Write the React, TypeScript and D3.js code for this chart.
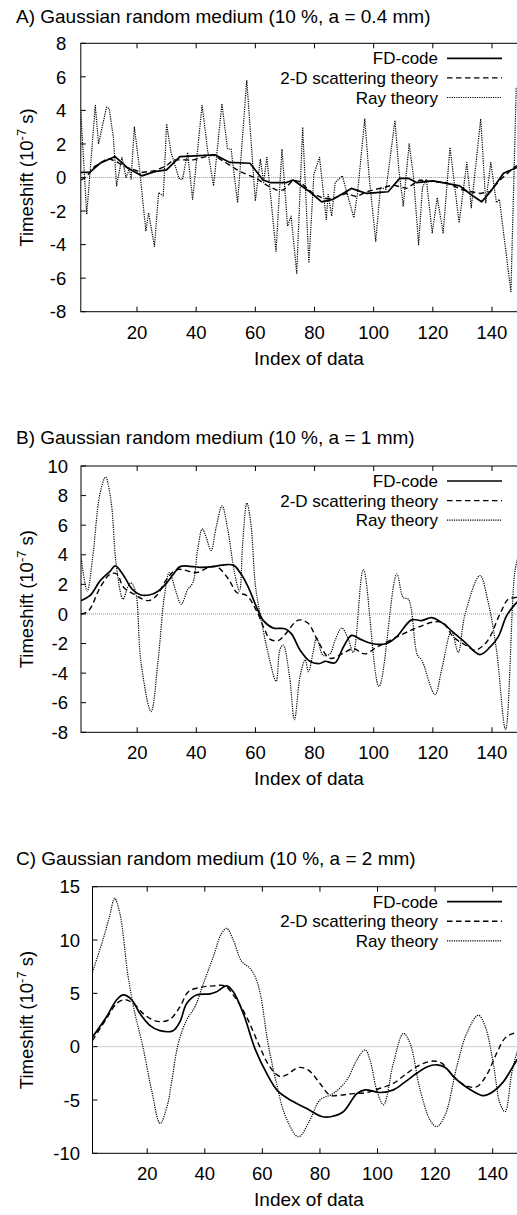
import React from 'react';
import * as d3 from 'd3';

type Pt = [number, number];

const X_DOMAIN: [number, number] = [1, 149];
const X_TICKS = [20, 40, 60, 80, 100, 120, 140];
const A_Y_TICKS = [-8, -6, -4, -2, 0, 2, 4, 6, 8];
const B_Y_TICKS = [-8, -6, -4, -2, 0, 2, 4, 6, 8, 10];
const C_Y_TICKS = [-10, -5, 0, 5, 10, 15];

const TITLES = [
  'A) Gaussian random medium (10 %, a = 0.4 mm)',
  'B) Gaussian random medium (10 %, a = 1 mm)',
  'C) Gaussian random medium (10 %, a = 2 mm)',
];
const SERIES_NAMES = ['FD-code', '2-D scattering theory', 'Ray theory'];
const X_LABEL = 'Index of data';

// Panel A
const A_FD: Pt[] = [
  [1, 0.3], [4, 0.3], [7.5, 0.85], [12.6, 1.25], [17, 0.55], [21.6, 0.1], [26, 0.35], [30, 0.45],
  [34.5, 1.25], [41.2, 1.3], [46.3, 1.35], [51.4, 0.9], [58.2, 0.85], [62.6, -0.15], [65, -0.3],
  [70.5, -0.3], [72.8, -0.15], [78.4, -0.85], [82.4, -1.45], [86.3, -1.3], [92.5, -0.65], [97.6, -0.95],
  [100.9, -0.9], [104.9, -0.85], [108.8, -0.05], [111.7, -0.05], [114.5, -0.3], [120.1, -0.2],
  [124.6, -0.35], [129.1, -0.5], [133.6, -1.1], [136.5, -1.45], [139.9, -0.75], [143.9, 0.25],
  [147.8, 0.55], [149, 0.65],
];
const A_2D: Pt[] = [
  [1, -0.15], [3, 0.05], [5.6, 0.65], [10.2, 1.15], [13, 0.95], [15.8, 0.65], [19.2, 0.45], [21.5, 0.3],
  [26, 0.4], [30, 0.7], [32.2, 1.05], [39, 1.05], [45.7, 1.35], [50.3, 0.85], [54.8, 0.35], [60.4, -0.05],
  [63.8, -0.45], [67.2, -0.75], [69.5, -0.75], [72.8, -0.15], [75, -0.25], [79.5, -0.95], [83, -1.25],
  [86.3, -1.25], [90.8, -0.95], [94.2, -1.15], [97.6, -0.85], [102, -0.65], [106.6, -0.45], [111.1, -0.65],
  [115.6, -0.15], [120.1, -0.25], [124.6, -0.3], [130.2, -0.75], [135.9, -0.95], [139.3, -0.85],
  [142.7, -0.15], [147.8, 0.65], [149, 0.75],
];
const A_RAY: Pt[] = [
  [1, 3.9], [3, -2.2], [5.9, 4.3], [7, 2.0], [9.7, 4.2], [10.6, 4.1], [12, 2.4], [13.1, -0.5], [14.9, 1.2],
  [16.3, 0], [17.4, 0.5], [18, -0.1], [19.1, 3.0], [20.8, 0.6], [23, -3.2], [23.9, -2.1], [25.9, -4.1],
  [27.3, -0.9], [28.9, -1.1], [30, 3.2], [31.5, 1.5], [34.3, -0.1], [35.4, -0.1], [37.1, 1.5], [38.8, -1.3],
  [42, 4.3], [43.9, 1.6], [45.9, -0.5], [48.7, 4.4], [50.6, 1.7], [51.8, 1.7], [54, -1.5], [57.1, 5.8],
  [60, -1.4], [61.7, 1.1], [62.8, -0.3], [63.9, 1.2], [67, -4.4], [69, 1.7], [70.9, -2.9], [72.1, -2.3],
  [74, -5.7], [76, 3.0], [78.1, -5.1], [79.8, 0.2], [81.7, 1.2], [84, -2.5], [84.6, -1.0], [85.8, -2.3],
  [87, -0.3], [89.4, 0.1], [93.3, -2.4], [94.5, -1.0], [97, 3.5], [98.5, 0], [100.7, -3.8], [102.3, -0.6],
  [104.2, -0.7], [107.2, 3.4], [108.5, 0.5], [110, -1.7], [112, 2.0], [113.5, 0.0], [115.2, -4.0],
  [116.5, -0.6], [117.8, -0.1], [119.8, -3.3], [121.5, -1.2], [123.5, -3.3], [125.8, 1.8], [128.9, -2.7],
  [131.5, 0.9], [133, -1.8], [136.2, 3.5], [137.9, -1.5], [139.6, 0.9], [141.5, -1.5], [142.5, -1.3],
  [146.4, -6.8], [148.2, 5.3], [149, 5.5],
];

// Panel B
const B_FD: Pt[] = [
  [1, 0.9], [4.1, 1.25], [7.5, 2.25], [10.9, 2.9], [12.6, 3.25], [15.4, 2.6], [18.2, 1.7], [21, 1.3],
  [24.4, 1.3], [27.2, 1.55], [30, 2.1], [32.3, 2.7], [34.5, 3.2], [39, 3.2], [41.3, 3.15], [45.8, 3.2],
  [48.6, 3.3], [52.5, 3.3], [54.8, 2.8], [57.6, 1.8], [60.4, 0.45], [62.7, -0.45], [66, -0.95], [70, -1.0],
  [72.2, -1.35], [75.1, -2.45], [78.4, -3.2], [81.8, -3.35], [83.5, -3.2], [86.9, -3.3], [89.7, -2.25],
  [92.5, -1.45], [95.4, -1.7], [99.3, -2.0], [104.4, -2.0], [107.7, -1.55], [112.8, -0.4], [116.2, -0.45],
  [119.6, -0.25], [123.5, -0.65], [126.9, -1.25], [130.8, -1.9], [135.9, -2.75], [139.3, -2.25],
  [142.1, -1.55], [145, -0.1], [147.8, 0.65], [149, 0.9],
];
const B_2D: Pt[] = [
  [1, 0], [3.5, 0.2], [7.5, 1.8], [10.9, 2.7], [13.1, 2.7], [15.4, 1.8], [18.8, 1.35], [23.8, 0.9],
  [26.6, 1.25], [30, 2.35], [33.4, 3.0], [40.2, 2.8], [44.1, 3.15], [46.9, 3.2], [50.9, 2.35], [53.7, 1.45],
  [57, 1.25], [60.4, 0.2], [63.2, -1.1], [64.9, -1.7], [67.7, -1.8], [70.6, -1.25], [73.4, -0.55],
  [75.1, -0.4], [77.9, -0.65], [81.3, -1.9], [85.2, -3.0], [89.7, -2.65], [93.1, -2.35], [97, -2.7],
  [101, -2.25], [108.9, -1.45], [114.4, -0.95], [120.1, -0.55], [123.5, -0.6], [126.9, -1.55],
  [131.4, -2.15], [134.2, -2.45], [138.2, -1.9], [142.7, 0], [145.5, 1.0], [147.8, 1.1], [149, 1.15],
];
const B_RAY: Pt[] = [
  [1, 3.9], [3.1, 1.55], [5.0, 3.9], [7.3, 8.0], [9.3, 9.25], [11.2, 7.55], [12.9, 3.35], [15.2, 1.0],
  [16.8, 1.8], [17.9, 2.1], [19.4, 1.55], [21.3, -3.3], [24.7, -6.6], [27, -3.3], [29.2, 1.2], [30.9, 2.8],
  [33.2, 1.45], [34.9, 0.65], [37.1, 1.65], [38.8, 2.1], [40.5, 4.4], [42, 5.75], [43.3, 5.2], [45, 4.3],
  [46.7, 5.85], [48.7, 7.3], [50.6, 5.75], [52.9, 2.8], [54.6, 1.55], [55.7, 4.85], [57.1, 7.5], [58.5, 6.0],
  [60, 1.9], [61.9, -0.35], [64.5, -2.85], [67, -4.55], [68.3, -2.4], [69.4, -2.1], [71.5, -4.2],
  [73.2, -7.15], [75.1, -4.2], [76.8, -3.1], [77.9, -3.9], [79.6, -2.5], [80.7, -1.6], [82.9, -2.8],
  [85.2, -2.7], [86.9, -1.8], [89.2, -0.95], [91.4, -1.7], [93.1, -2.6], [96.5, 3.0], [101.8, -4.9],
  [107.8, 2.7], [110, 1.1], [111.7, 1.0], [114.8, -2.8], [116.2, -3.1], [120.7, -5.45], [123, -3.75],
  [126.3, -1.15], [128.6, -2.6], [130.8, -0.1], [135.9, 2.6], [138.7, 0.8], [141.5, -2.4], [144.6, -7.8],
  [147.7, 2.8], [149, 4.0],
];

// Panel C
const C_FD: Pt[] = [
  [1, 0.9], [5.9, 2.8], [9.4, 4.4], [11.7, 4.85], [14.6, 4.4], [17.5, 3.1], [20.9, 2.0], [24.4, 1.5],
  [29, 1.5], [31.4, 2.35], [33.7, 4.05], [37.1, 4.85], [41.8, 4.95], [44.1, 5.15], [47.6, 5.7], [49.9, 5.15],
  [53.4, 3.1], [57.6, -0.3], [61.5, -2.5], [65.5, -4.2], [70.7, -5.15], [75.4, -5.8], [80.6, -6.55],
  [84.1, -6.55], [88.1, -6.1], [92.8, -4.4], [95.7, -4.05], [100.9, -4.3], [105.5, -4.05], [109.6, -3.3],
  [113.6, -2.5], [117.1, -1.9], [120.6, -1.7], [123.5, -1.95], [126.4, -2.8], [129.8, -3.6], [133.3, -4.2],
  [136.8, -4.6], [140.2, -4.2], [143.7, -3.3], [147.7, -1.55], [149, -1.0],
];
const C_2D: Pt[] = [
  [1, 0.6], [5.9, 2.65], [9.4, 4.05], [12.3, 4.4], [15.2, 4.05], [18.6, 3.1], [22, 2.5], [24.9, 2.35],
  [27.9, 2.55], [31.4, 3.75], [34.3, 5.15], [38.3, 5.55], [43, 5.7], [47, 5.7], [49.9, 4.85], [54.5, 2.8],
  [58.6, 0.3], [62.6, -1.9], [66.1, -2.8], [68.4, -2.65], [72.5, -1.95], [76, -2.2], [80, -3.45],
  [83.5, -4.55], [87, -4.55], [91.6, -4.4], [96.3, -4.3], [100.9, -3.9], [105.5, -3.45], [110.2, -2.5],
  [114.8, -1.7], [119.4, -1.35], [122.3, -1.55], [126.4, -2.8], [131, -3.7], [134.5, -3.75], [137.9, -2.65],
  [141.4, -0.6], [144.3, 0.8], [147.2, 1.25], [149, 1.3],
];
const C_RAY: Pt[] = [
  [1, 7.0], [4.6, 10.0], [6.9, 12.2], [8.7, 13.9], [10.5, 12.5], [13.3, 6.7], [15.5, 3.4], [18.5, 0],
  [21.5, -4.05], [24.5, -7.2], [27, -5.5], [28.4, -3.45], [30.8, 0.3], [33.7, 2.5], [36.6, 3.75],
  [39.5, 5.9], [42.9, 8.4], [45.8, 10.6], [47.6, 11.1], [49.9, 10], [52.8, 8], [55.7, 7.35], [57.6, 6.5],
  [59.4, 4.8], [61.9, 0.4], [64.8, -3.3], [68, -6.5], [72.5, -8.45], [76.5, -6.9], [80, -5], [84.6, -4.4],
  [89.4, -3.1], [92.8, -1.25], [95.7, -0.3], [97.4, -1.25], [99.7, -4.05], [102.1, -5.45], [105.5, -1.55],
  [109, 1.25], [111.3, 0.3], [114.8, -4.05], [118.3, -6.9], [120.6, -7.5], [123.5, -6.4], [127.5, -1.9],
  [131, 1.25], [135, 2.95], [137.4, 1.9], [140.2, -1.55], [142.5, -5.3], [144.3, -6.1], [146.6, -2.5],
  [147.7, -1.25], [149, 0],
];

const FONT = "'Liberation Sans', Arial, Helvetica, sans-serif";
const FS = 18.5;
const FS_TITLE = 19;
const FS_LEG = 17;

interface PanelCfg {
  title: string;
  titleY: number;
  fd: Pt[];
  sd: Pt[];
  ray: Pt[];
  yTicks: number[];
  left: number;
  top: number;
  bottom: number;
  tickGap: number;
  smooth: boolean;
}

const PANELS: PanelCfg[] = [
  { title: TITLES[0], titleY: 23, fd: A_FD, sd: A_2D, ray: A_RAY, yTicks: A_Y_TICKS, left: 80.8, top: 43.3, bottom: 311.7, tickGap: 14.5, smooth: false },
  { title: TITLES[1], titleY: 444, fd: B_FD, sd: B_2D, ray: B_RAY, yTicks: B_Y_TICKS, left: 81, top: 466, bottom: 732.3, tickGap: 13, smooth: true },
  { title: TITLES[2], titleY: 865, fd: C_FD, sd: C_2D, ray: C_RAY, yTicks: C_Y_TICKS, left: 92.5, top: 886.7, bottom: 1153.3, tickGap: 12.5, smooth: true },
];

const RIGHT = 518.6;

function Panel({ cfg, idx }: { cfg: PanelCfg; idx: number }) {
  const x = d3.scaleLinear().domain(X_DOMAIN).range([cfg.left, RIGHT]);
  const yd = d3.extent(cfg.yTicks) as [number, number];
  const y = d3.scaleLinear().domain(yd).range([cfg.bottom, cfg.top]);
  const curve = cfg.smooth ? d3.curveCatmullRom.alpha(0.5) : d3.curveLinear;
  const line = d3.line<Pt>().x((d) => x(d[0])).y((d) => y(d[1])).curve(curve);
  const clipId = `clip${idx}`;
  const tl = 5;
  const legX1 = 447;
  const legX2 = 502;
  const legTextX = 438;
  const legRows = [cfg.top + 15, cfg.top + 34.6, cfg.top + 54.2];
  const styles = [
    { stroke: '#000', strokeWidth: 1.7, dash: undefined as string | undefined },
    { stroke: '#000', strokeWidth: 1.4, dash: '5.5 3.5' },
    { stroke: '#000', strokeWidth: 1.2, dash: '1.2 1.1' },
  ];
  const data = [cfg.fd, cfg.sd, cfg.ray];
  const midY = (cfg.top + cfg.bottom) / 2;
  return (
    <g>
      <defs>
        <clipPath id={clipId}>
          <rect x={cfg.left} y={cfg.top} width={RIGHT - cfg.left} height={cfg.bottom - cfg.top} />
        </clipPath>
      </defs>
      <text x={16} y={cfg.titleY} fontSize={FS_TITLE} fontFamily={FONT} fill="#000">{cfg.title}</text>
      {/* zero axis */}
      <line x1={cfg.left} x2={RIGHT} y1={y(0)} y2={y(0)} stroke="#999" strokeWidth={1} strokeDasharray="1 1" />
      {/* lines: ray first, then 2-D, then FD */}
      <g clipPath={`url(#${clipId})`}>
        {[2, 1, 0].map((i) => (
          <path key={i} d={line(data[i]) || ''} fill="none" stroke={styles[i].stroke}
            strokeWidth={styles[i].strokeWidth} strokeDasharray={styles[i].dash} strokeLinejoin="round" />
        ))}
      </g>
      {/* frame */}
      <rect x={cfg.left} y={cfg.top} width={RIGHT - cfg.left} height={cfg.bottom - cfg.top} fill="none" stroke="#000" strokeWidth={1} />
      {/* y ticks */}
      {cfg.yTicks.map((t) => (
        <g key={`y${t}`}>
          <line x1={cfg.left} x2={cfg.left + tl} y1={y(t)} y2={y(t)} stroke="#000" />
          <text x={cfg.left - cfg.tickGap} y={y(t)} dy="0.36em" textAnchor="end" fontSize={FS} fontFamily={FONT}>{t}</text>
        </g>
      ))}
      {/* x ticks */}
      {X_TICKS.map((t) => (
        <g key={`x${t}`}>
          <line x1={x(t)} x2={x(t)} y1={cfg.bottom} y2={cfg.bottom - tl} stroke="#000" />
          <line x1={x(t)} x2={x(t)} y1={cfg.top} y2={cfg.top + tl} stroke="#000" />
          <text x={x(t)} y={cfg.bottom + 27} textAnchor="middle" fontSize={FS} fontFamily={FONT}>{t}</text>
        </g>
      ))}
      <text x={309} y={cfg.bottom + 53} textAnchor="middle" fontSize={FS_TITLE} fontFamily={FONT}>{X_LABEL}</text>
      <text transform={`translate(33,${midY}) rotate(-90)`} textAnchor="middle" fontSize={FS} fontFamily={FONT}>
        Timeshift (10<tspan fontSize={13} dy={-7}>-7</tspan><tspan dy={7}> s)</tspan>
      </text>
      {/* legend */}
      {SERIES_NAMES.map((name, i) => (
        <g key={name}>
          <text x={legTextX} y={legRows[i]} dy="0.36em" textAnchor="end" fontSize={FS_LEG} fontFamily={FONT}>{name}</text>
          <line x1={legX1} x2={legX2} y1={legRows[i]} y2={legRows[i]} stroke={styles[i].stroke}
            strokeWidth={styles[i].strokeWidth} strokeDasharray={styles[i].dash} />
        </g>
      ))}
    </g>
  );
}

export default function App() {
  return (
    <svg width={517} height={1215} style={{ position: 'absolute', left: 0, top: 0, background: '#fff' }}>
      <rect x={0} y={0} width={517} height={1215} fill="#fff" />
      {PANELS.map((p, i) => (
        <Panel key={i} cfg={p} idx={i} />
      ))}
    </svg>
  );
}
